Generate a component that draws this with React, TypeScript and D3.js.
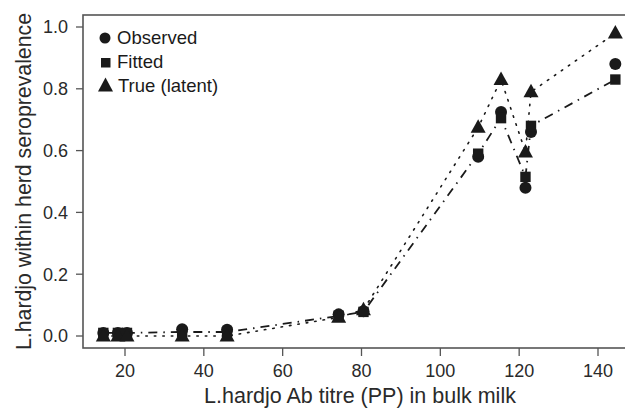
import React from "react";
import * as d3 from "d3";

const titre = [14.5, 18.2, 20.5, 34.5, 45.9, 74.2, 80.5, 109.6, 115.4, 121.6, 123.0, 144.4];
const observed = [0.01, 0.01, 0.01, 0.022, 0.02, 0.07, 0.08, 0.58, 0.725, 0.48, 0.66, 0.88];
const fitted = [0.01, 0.01, 0.01, 0.013, 0.013, 0.065, 0.078, 0.59, 0.705, 0.515, 0.68, 0.83];
const trueLatent = [0.0, 0.0, 0.0, 0.0, 0.0, 0.06, 0.085, 0.675, 0.83, 0.595, 0.79, 0.98];
const xTicks = [20, 40, 60, 80, 100, 120, 140];
const yTicks = [0, 0.2, 0.4, 0.6, 0.8, 1.0];

const W = 625, H = 409;
const x = d3.scaleLinear().domain([20, 140]).range([125, 598]);
const y = d3.scaleLinear().domain([0, 1]).range([336, 27]);
const FONT = "'Liberation Sans', Arial, sans-serif";
const INK = "#1a1a1a";
const LABEL = "#2a2a2a";

const tri = (cx: number, cy: number, w: number, h: number) =>
  `M${cx},${cy - h * 0.6}L${cx + w / 2},${cy + h * 0.4}L${cx - w / 2},${cy + h * 0.4}Z`;

export default function App() {
  const line = d3.line<number>().x((_, i) => x(titre[i])).y((d) => y(d));
  const left = 83, bottom = 348, top = 15;
  return (
    <svg width={W} height={H} style={{ position: "absolute", left: 0, top: 0, background: "#fff" }} fontFamily={FONT}>
      <rect x={left} y={top} width={W} height={bottom - top} fill="none" stroke="#555" strokeWidth={1.6} />
      {yTicks.map((t) => (
        <g key={t}>
          <line x1={left - 7} x2={left} y1={y(t)} y2={y(t)} stroke="#555" strokeWidth={1.3} />
          <text x={68} y={y(t) + 6.3} textAnchor="end" fontSize={18} fill={LABEL}>{t.toFixed(1)}</text>
        </g>
      ))}
      {xTicks.map((t) => (
        <g key={t}>
          <line x1={x(t)} x2={x(t)} y1={bottom} y2={bottom + 8} stroke="#555" strokeWidth={1.3} />
          <text x={x(t)} y={377} textAnchor="middle" fontSize={18} fill={LABEL}>{t}</text>
        </g>
      ))}
      <text x={360} y={403} textAnchor="middle" fontSize={21.5} fill={LABEL}>L.hardjo Ab titre (PP) in bulk milk</text>
      <text transform={`translate(31,${181.5}) rotate(-90)`} textAnchor="middle" fontSize={21.5} textLength={337} lengthAdjust="spacingAndGlyphs" fill={LABEL}>L.hardjo within herd seroprevalence</text>

      <path d={line(trueLatent) || ""} fill="none" stroke={INK} strokeWidth={1.6} strokeDasharray="1.5 7" strokeLinecap="round" />
      <path d={line(fitted) || ""} fill="none" stroke={INK} strokeWidth={1.8} strokeDasharray="9 6 1.5 6" />

      {titre.map((t, i) => (
        <circle key={"o" + i} cx={x(t)} cy={y(observed[i])} r={6} fill={INK} />
      ))}
      {titre.map((t, i) => (
        <rect key={"f" + i} x={x(t) - 5.2} y={y(fitted[i]) - 5.2} width={10.4} height={10.4} fill={INK} />
      ))}
      {titre.map((t, i) => (
        <path key={"t" + i} d={tri(x(t), y(trueLatent[i]), 15, 13.5)} fill={INK} />
      ))}

      <circle cx={105} cy={38} r={5.5} fill={INK} />
      <text x={117} y={44.3} fontSize={18.5} fill={INK}>Observed</text>
      <rect x={101} y={58} width={9.5} height={9.5} fill={INK} />
      <text x={117} y={68.3} fontSize={18.5} fill={INK}>Fitted</text>
      <path d={tri(105.5, 86, 15, 14)} fill={INK} />
      <text x={118} y={91.5} fontSize={18.5} fill={INK}>True (latent)</text>
    </svg>
  );
}
